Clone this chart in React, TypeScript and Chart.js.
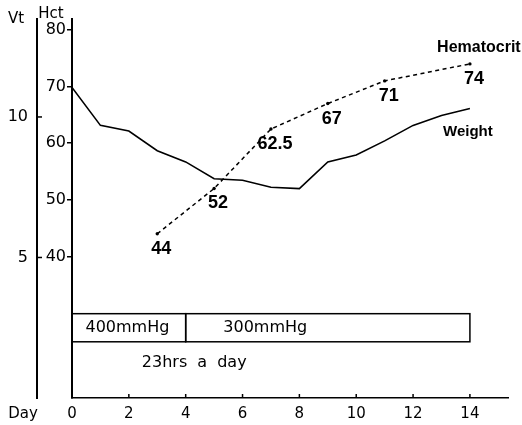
import React, { useEffect, useRef } from 'react';
import { Chart, registerables } from 'chart.js';

Chart.register(...registerables);

// ---- data ----
const days = [0, 1, 2, 3, 4, 5, 6, 7, 8, 9, 10, 11, 12, 13, 14];
const weightVt = [11.05, 9.7, 9.5, 8.8, 8.4, 7.8, 7.75, 7.5, 7.45, 8.4, 8.65, 9.15, 9.7, 10.05, 10.3];
const hctDays = [3, 5, 7, 9, 11, 14];
const hctValues = [44, 52, 62.5, 67, 71, 74];
const hctPointLabels = ['44', '52', '62.5', '67', '71', '74'];
const dayTicks = [0, 2, 4, 6, 8, 10, 12, 14];
const hctTicks = [40, 50, 60, 70, 80];
const vtTicks = [5, 10];
const phaseLabels = ['400mmHg', '300mmHg'];
const phaseStarts = [0, 4];
const phaseEnds = [4, 14];
const phaseLabelDays = [1.95, 6.8];
const scheduleLabel = '23hrs a day';
const scheduleLabelDay = 4.3;

const FONT = 'DejaVu Sans';
const SANS = 'Liberation Sans';

const annotationPlugin = {
  id: 'annotations',
  afterDraw(chart: any) {
    const { ctx, scales } = chart;
    const x = scales.x;
    const y = scales.y;
    const y2 = scales.y2;
    ctx.save();
    ctx.strokeStyle = '#000';
    ctx.fillStyle = '#000';

    // inward ticks on the day axis
    ctx.lineWidth = 1.5;
    const xb = x.top;
    dayTicks.forEach((d) => {
      if (d === 0) return;
      const px = x.getPixelForValue(d);
      ctx.beginPath();
      ctx.moveTo(px, xb);
      ctx.lineTo(px, xb - 4);
      ctx.stroke();
    });
    // inward ticks on the Vt axis
    const vx = y2.right;
    vtTicks.forEach((v) => {
      const py = y2.getPixelForValue(v);
      ctx.beginPath();
      ctx.moveTo(vx, py);
      ctx.lineTo(vx + 5, py);
      ctx.stroke();
    });

    // axis titles
    ctx.font = `15px ${FONT}`;
    ctx.textAlign = 'center';
    ctx.textBaseline = 'middle';
    ctx.fillText('Vt', 16, 19);
    ctx.fillText('Hct', 51, 14);
    ctx.fillText('Day', 23, 414);

    // point labels
    ctx.font = `bold 18px ${SANS}`;
    hctDays.forEach((d, i) => {
      const px = x.getPixelForValue(d);
      const py = y.getPixelForValue(hctValues[i]);
      ctx.fillText(hctPointLabels[i], px + 4, py + 15);
    });

    // series labels
    const lastI = hctDays.length - 1;
    ctx.font = `bold 16px ${SANS}`;
    ctx.fillText('Hematocrit', x.getPixelForValue(hctDays[lastI]) + 9, y.getPixelForValue(hctValues[lastI]) - 16);
    const lastW = days.length - 1;
    ctx.font = `bold 15px ${SANS}`;
    ctx.fillText('Weight', x.getPixelForValue(days[lastW]) - 2, y2.getPixelForValue(weightVt[lastW]) + 23);

    // regimen box
    const top = y2.getPixelForValue(3);
    const bot = y2.getPixelForValue(2);
    ctx.lineWidth = 1.5;
    phaseStarts.forEach((s, i) => {
      const l = x.getPixelForValue(s);
      const r = x.getPixelForValue(phaseEnds[i]);
      ctx.strokeRect(l, top, r - l, bot - top);
    });
    ctx.font = `16px ${FONT}`;
    phaseLabels.forEach((t, i) => {
      ctx.fillText(t, x.getPixelForValue(phaseLabelDays[i]), (top + bot) / 2);
    });
    try { (ctx as any).wordSpacing = '5px'; } catch (e) { /* ignore */ }
    ctx.fillText(scheduleLabel, x.getPixelForValue(scheduleLabelDay), y2.getPixelForValue(1.26));
    try { (ctx as any).wordSpacing = '0px'; } catch (e) { /* ignore */ }

    ctx.restore();
  },
};

export default function App() {
  const ref = useRef<HTMLCanvasElement | null>(null);

  useEffect(() => {
    if (!ref.current) return;
    const chart = new Chart(ref.current, {
      type: 'line',
      data: {
        datasets: [
          {
            label: 'Weight',
            data: days.map((d, i) => ({ x: d, y: weightVt[i] })),
            yAxisID: 'y2',
            borderColor: '#000',
            borderWidth: 1.6,
            pointRadius: 0,
            tension: 0,
          },
          {
            label: 'Hematocrit',
            data: hctDays.map((d, i) => ({ x: d, y: hctValues[i] })),
            yAxisID: 'y',
            borderColor: '#000',
            borderWidth: 1.5,
            borderDash: [4, 3.5],
            pointRadius: 1.7,
            pointBackgroundColor: '#000',
            pointBorderColor: '#000',
            pointBorderWidth: 0,
            tension: 0,
          },
        ],
      },
      options: {
        responsive: false,
        animation: false,
        devicePixelRatio: 1,
        layout: { padding: { left: 0, top: 13, right: 14, bottom: 0 } },
        plugins: { legend: { display: false }, tooltip: { enabled: false } },
        scales: {
          x: {
            type: 'linear',
            min: 0,
            max: 15.34,
            afterBuildTicks: (s: any) => { s.ticks = dayTicks.map((v) => ({ value: v })); },
            afterFit: (s: any) => { s.height = 27; },
            grid: { display: false, drawTicks: false },
            border: { display: true, color: '#000', width: 1.6 },
            ticks: { color: '#000', font: { family: FONT, size: 15 }, padding: 7, maxRotation: 0 },
          },
          y: {
            type: 'linear',
            position: 'left',
            weight: 0,
            min: 15,
            max: 82,
            afterBuildTicks: (s: any) => { s.ticks = hctTicks.map((v) => ({ value: v })); },
            afterFit: (s: any) => { s.width = 35; },
            grid: { display: true, drawOnChartArea: false, drawTicks: true, tickLength: 5, color: '#000', lineWidth: 1.5 },
            border: { display: true, color: '#000', width: 2 },
            ticks: { color: '#000', font: { family: FONT, size: 16 }, padding: 1 },
          },
          y2: {
            type: 'linear',
            position: 'left',
            weight: 1,
            min: 0,
            max: 13.5,
            afterBuildTicks: (s: any) => { s.ticks = vtTicks.map((v) => ({ value: v })); },
            afterFit: (s: any) => { s.width = 37; },
            grid: { display: false, drawTicks: false },
            border: { display: true, color: '#000', width: 2 },
            ticks: { color: '#000', font: { family: FONT, size: 16 }, padding: 9 },
          },
        },
      },
      plugins: [annotationPlugin],
    } as any);
    return () => chart.destroy();
  }, []);

  return (
    <div style={{ position: 'fixed', left: 0, top: 0, width: 522, height: 425, background: '#fff' }}>
      <canvas ref={ref} width={522} height={425} style={{ width: 522, height: 425, display: 'block' }} />
    </div>
  );
}
